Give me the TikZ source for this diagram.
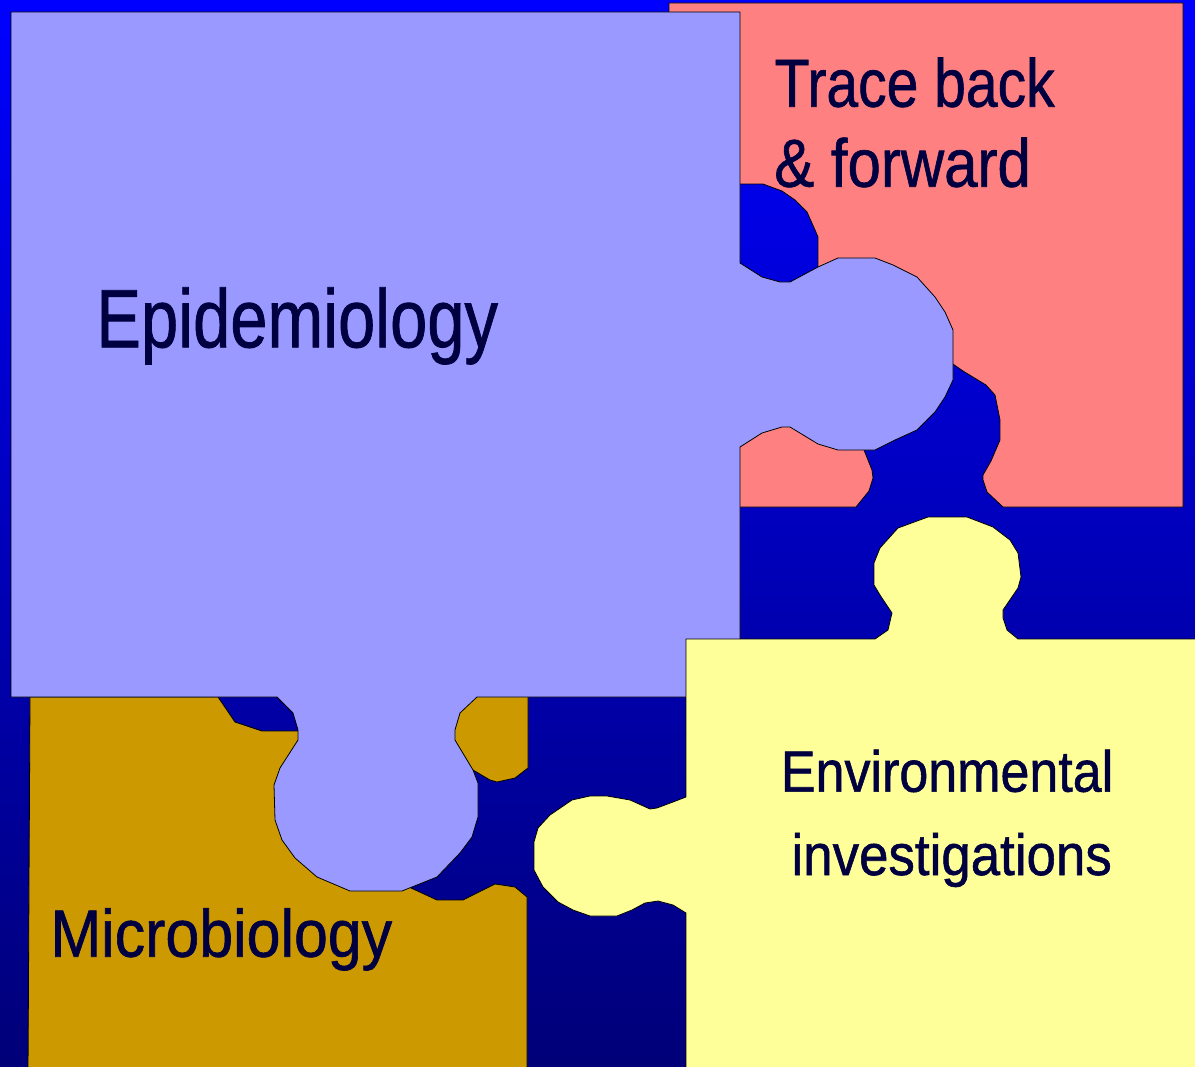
\documentclass[tikz,border=0pt]{standalone}
\usepackage{graphicx}
\usepackage{fontspec}
\setmainfont{Liberation Sans}
\newfontfamily\heavy[FakeBold=1.0]{Liberation Sans}
\definecolor{bgtop}{RGB}{0,0,255}
\definecolor{bgmid}{RGB}{0,0,175}
\definecolor{bgbot}{RGB}{0,0,120}
\definecolor{epi}{RGB}{153,153,255}
\definecolor{trace}{RGB}{255,128,128}
\definecolor{micro}{RGB}{204,153,0}
\definecolor{env}{RGB}{255,255,153}
\definecolor{txt}{RGB}{0,0,64}
\newcommand\lab[3]{\scalebox{#2}[1]{\fontsize{#1}{#1}\heavy #3}}
\tikzset{
  piece/.style={draw=black, line width=0.8pt, line join=round},
  lbl/.style={anchor=base west, inner sep=0pt, outer sep=0pt, text=txt}
}
\begin{document}
\begin{tikzpicture}[x=1pt,y=-1pt]
\useasboundingbox (0,0) rectangle (1195,1067);
\clip (0,0) rectangle (1195,1067);
\shade[top color=bgtop, middle color=bgmid, bottom color=bgbot] (0,0) rectangle (1195,1067);
% Trace back & forward piece
\filldraw[piece, fill=trace] (669,3) -- (1183,3) -- (1183,507) -- (1003,507) -- (987,492) -- (983,480) -- (983,475) -- (991,461) -- (1000,440) -- (1000,420) -- (995,395) -- (986,385) -- (963,371) -- (950,362) -- (862,445) -- (872,470) -- (873,478) -- (869,491) -- (856,507) -- (669,507) -- (669,330) -- (818,330) -- (818,268) -- (818,237) -- (815,230) -- (807,212) -- (795,200) -- (782,191) -- (763,184) -- (741,184) -- (669,184) -- cycle;
% Microbiology piece
\filldraw[piece, fill=micro] (30,697) -- (218,697) -- (235,722) -- (262,731) -- (298,731) -- (380,760) -- (380,690) -- (528,690) -- (528,768) -- (515,778) -- (497,782) -- (490,780) -- (473,770) -- (440,840) -- (411,888) -- (437,900) -- (463,900) -- (495,884) -- (515,887) -- (527,897) -- (527,1075) -- (28,1075) -- cycle;
% Epidemiology piece
\filldraw[piece, fill=epi] (11,12) -- (740,12) -- (740,263) -- (762,277) -- (780,282) -- (790,282) -- (818,267) -- (838,258) -- (875,258) -- (893,265) -- (917,277) -- (935,297) -- (945,312) -- (953,330) -- (953,380) -- (945,397) -- (935,412) -- (922,425) -- (917,430) -- (895,440) -- (875,450) -- (838,450) -- (818,444) -- (790,427) -- (782,427) -- (762,433) -- (740,447) -- (740,697) -- (477,697) -- (460,713) -- (455,730) -- (455,740) -- (473,770) -- (478,783) -- (478,817) -- (472,837) -- (460,853) -- (437,877) -- (412,887) -- (402,891) -- (350,891) -- (317,877) -- (295,858) -- (282,840) -- (275,820) -- (274,785) -- (280,768) -- (298,740) -- (298,730) -- (293,713) -- (277,697) -- (11,697) -- cycle;
% Environmental investigations piece
\filldraw[piece, fill=env] (686,639) -- (875,639) -- (888,630) -- (892,613) -- (880,595) -- (874,585) -- (874,563) -- (880,548) -- (898,528) -- (928,517) -- (967,517) -- (993,527) -- (1010,540) -- (1018,553) -- (1021,577) -- (1018,588) -- (1003,610) -- (1003,618) -- (1007,630) -- (1018,639) -- (1205,639) -- (1205,1075) -- (686,1075) -- (686,913) -- (673,905) -- (658,901) -- (645,903) -- (632,910) -- (617,916) -- (590,916) -- (573,910) -- (558,902) -- (543,887) -- (534,870) -- (534,842) -- (538,828) -- (550,815) -- (572,800) -- (590,796) -- (607,796) -- (630,800) -- (650,809) -- (657,808) -- (673,802) -- (686,797) -- cycle;
% labels
\node[lbl] (epiT) at (96.4,347.3) {\lab{82.8}{0.808}{Epidemiology}};
\node[lbl] (microT) at (50.5,956.7) {\lab{66.9}{0.910}{Microbiology}};
\node[lbl] (traceA) at (774.7,106.7) {\lab{67.9}{0.840}{Trace back}};
\node[lbl] (traceB) at (774.3,186.7) {\lab{67.9}{0.883}{\&~forward}};
\node[lbl] (envA) at (780.9,791.7) {\lab{58.1}{0.895}{Environmental}};
\node[lbl] (envB) at (791.5,875) {\lab{58.1}{0.910}{investigations}};
\end{tikzpicture}
\end{document}
